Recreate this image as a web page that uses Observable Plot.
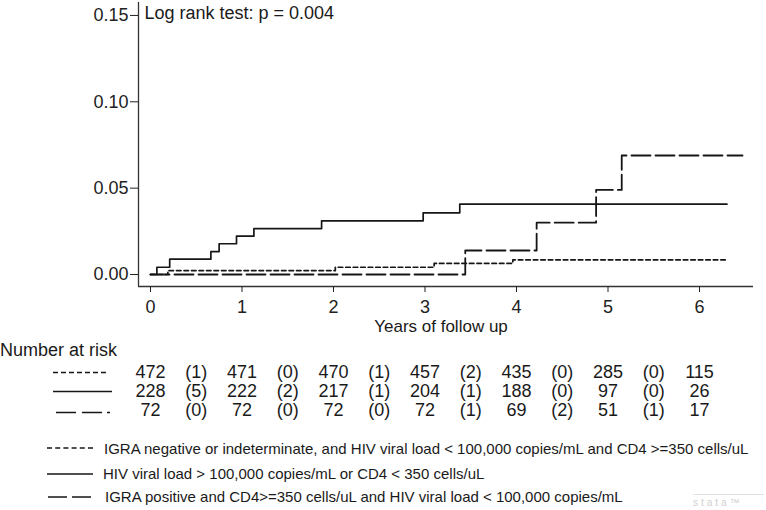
<!DOCTYPE html>
<html>
<head>
<meta charset="utf-8">
<script src="https://cdn.jsdelivr.net/npm/d3@7"></script>
<script src="https://cdn.jsdelivr.net/npm/@observablehq/plot@0.6"></script>
<style>
  html, body { margin: 0; padding: 0; background: #fff; }
  #wrap { position: relative; width: 766px; height: 510px; overflow: hidden; font-family: "Liberation Sans", Arial, sans-serif; color: #1a1a1a; }
  .abs { position: absolute; }
  .lg { font-size: 15px; white-space: nowrap; line-height: 18px; }
</style>
</head>
<body>
<div id="wrap">
  <div id="main" class="abs" style="left:0;top:0"></div>
  <div class="abs" style="left:0;top:339px;font-size:18px;line-height:22px;white-space:nowrap">Number at risk</div>
  <div id="risk" class="abs" style="left:0;top:360px"></div>
  <svg id="sw" class="abs" style="left:0;top:0" width="766" height="510"></svg>
  <div id="legend"></div>
  <div class="abs" style="left:693px;top:494px;width:71px;border-top:1px solid #e2e2e2;color:#cfcfcf;font-size:10px;letter-spacing:3px;line-height:12px;padding-top:2px">stata™</div>
</div>
<script>
// ---- data ----
// Group 1: IGRA negative/indeterminate, VL<100k and CD4>=350 (short dash)
const negTimes  = [0, 0.19, 2.02, 3.10, 3.96, 6.30];
const negValues = [0, 0.0023, 0.0042, 0.0064, 0.0085, 0.0085];
// Group 2: VL>100k or CD4<350 (solid)
const highTimes  = [0, 0.07, 0.21, 0.66, 0.75, 0.94, 1.13, 1.87, 2.98, 3.38, 6.30];
const highValues = [0, 0.0042, 0.0089, 0.0133, 0.0178, 0.0222, 0.0266, 0.0311, 0.0357, 0.0407, 0.0407];
// Group 3: IGRA positive, CD4>=350, VL<100k (long dash)
const posTimes  = [0, 3.44, 4.22, 4.87, 5.15, 6.47];
const posValues = [0, 0.0139, 0.0300, 0.0490, 0.0689, 0.0689];

const xTicks = [0, 1, 2, 3, 4, 5, 6];
const yTicks = [0, 0.05, 0.10, 0.15];
const xDomain = [-0.131, 6.59];
const yDomain = [-0.00695, 0.1575];

const riskTimes  = [0, 1, 2, 3, 4, 5, 6];
const riskNeg    = [472, 471, 470, 457, 435, 285, 115];
const riskHigh   = [228, 222, 217, 204, 188, 97, 26];
const riskPos    = [72, 72, 72, 72, 69, 51, 17];
const eventTimes = [0.5, 1.5, 2.5, 3.5, 4.5, 5.5];
const eventsNeg  = [1, 0, 1, 2, 0, 0];
const eventsHigh = [5, 2, 1, 1, 0, 0];
const eventsPos  = [0, 0, 0, 1, 2, 1];

const logRankText = "Log rank test: p = 0.004";
const xLabel = "Years of follow up";
const legendLabels = [
  "IGRA negative or indeterminate, and HIV viral load < 100,000 copies/mL and CD4 >=350 cells/uL",
  "HIV viral load > 100,000 copies/mL or CD4 < 350 cells/uL",
  "IGRA positive and CD4>=350 cells/uL and HIV viral load < 100,000 copies/mL"
];

// ---- build ----
const toPts = (ts, vs) => ts.map((t, i) => ({t, v: vs[i]}));
const negData = toPts(negTimes, negValues);
const highData = toPts(highTimes, highValues);
const posData = toPts(posTimes, posValues);

const dashes = ["4.5,3", null, "19,5"];
const ink = "#161616";
const font = "'Liberation Sans', Arial, sans-serif";

const main = Plot.plot({
  width: 766, height: 340,
  marginLeft: 138, marginRight: 13, marginTop: 2, marginBottom: 54,
  style: {fontFamily: font, fontSize: "18px", color: "#222", background: "white"},
  x: {domain: xDomain},
  y: {domain: yDomain},
  marks: [
    Plot.ruleX([xDomain[0]], {stroke: "#333", strokeWidth: 1.3}),
    Plot.ruleY([yDomain[0]], {stroke: "#333", strokeWidth: 1.3}),
    Plot.axisX({ticks: xTicks, tickSize: 6, tickPadding: 8, tickFormat: d => String(d), label: null, fontSize: 18}),
    Plot.axisY({ticks: yTicks, tickSize: 8, tickPadding: 2, tickFormat: d => d.toFixed(2), label: null, fontSize: 18}),
    Plot.line(negData, {x: "t", y: "v", curve: "step-after", stroke: ink, strokeWidth: 1.7, strokeDasharray: dashes[0]}),
    Plot.line(highData, {x: "t", y: "v", curve: "step-after", stroke: ink, strokeWidth: 1.7}),
    Plot.line(posData, {x: "t", y: "v", curve: "step-after", stroke: ink, strokeWidth: 1.8, strokeDasharray: dashes[2]}),
    Plot.text([logRankText], {text: d => d, frameAnchor: "top-left", textAnchor: "start", lineAnchor: "top", dx: 6, dy: 4, fontSize: 18, fill: "#1a1a1a"}),
    Plot.text([xLabel], {text: d => d, frameAnchor: "bottom", textAnchor: "middle", lineAnchor: "middle", dx: -5, dy: 40, fontSize: 17, fill: "#1a1a1a"})
  ]
});
document.getElementById("main").appendChild(main);

// ---- numbers at risk (same x scale) ----
const groups = [
  {row: 0, risk: riskNeg, ev: eventsNeg},
  {row: 1, risk: riskHigh, ev: eventsHigh},
  {row: 2, risk: riskPos, ev: eventsPos}
];
const riskRows = groups.flatMap(g => riskTimes.map((t, i) => ({t, row: g.row, label: String(g.risk[i])})));
const eventRows = groups.flatMap(g => eventTimes.map((t, i) => ({t, row: g.row, label: "(" + g.ev[i] + ")"})));

const risk = Plot.plot({
  width: 766, height: 62,
  marginLeft: 138, marginRight: 13, marginTop: 12, marginBottom: 12,
  style: {fontFamily: font, fontSize: "18px", color: "#1a1a1a", background: "transparent"},
  x: {domain: xDomain, axis: null},
  y: {type: "point", domain: [0, 1, 2], padding: 0, axis: null},
  marks: [
    Plot.text(riskRows, {x: "t", y: "row", text: "label", fontSize: 18}),
    Plot.text(eventRows, {x: "t", y: "row", text: "label", fontSize: 18})
  ]
});
document.getElementById("risk").appendChild(risk);

// ---- swatches (at-risk rows and legend) ----
const sw = d3.select("#sw");
const swatch = (x1, x2, y, dash) => {
  sw.append("line").attr("x1", x1).attr("x2", x2).attr("y1", y).attr("y2", y)
    .attr("stroke", ink).attr("stroke-width", 1.6)
    .attr("stroke-dasharray", dash || null);
};
swatch(53, 108, 372.5, "5,3");
swatch(53, 112, 391.5, null);
swatch(56, 111, 412.5, "20,6,20,5,3,10");
swatch(47, 93, 448, "5,3.2");
swatch(47, 93, 474, null);
swatch(48, 93, 497, "19,5");

const legendY = [440, 465, 488];
const legendX = [104, 103, 105];
const lg = d3.select("#legend");
legendLabels.forEach((s, i) => {
  lg.append("div").attr("class", "abs lg")
    .style("left", legendX[i] + "px").style("top", legendY[i] + "px").text(s);
});
</script>
</body>
</html>
